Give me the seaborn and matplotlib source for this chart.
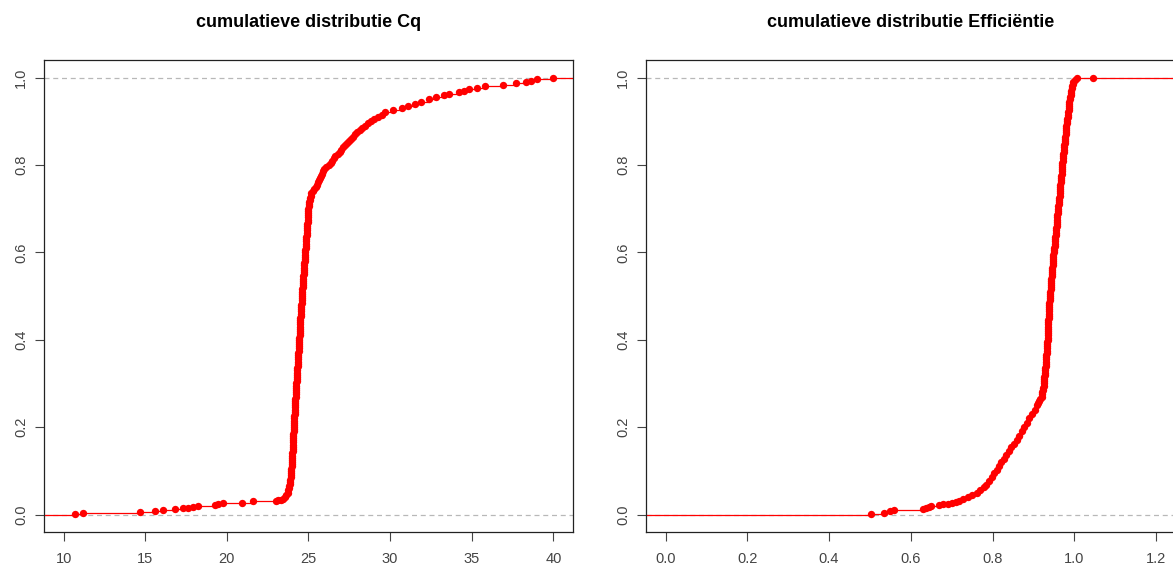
import pandas as pd
import matplotlib.pyplot as plt
import seaborn as sns

# ECDF knots: value and cumulative fraction
cq_value = [10.7, 11.2, 14.65, 15.6, 16.1, 16.85, 17.3, 17.6, 17.9, 18.25,
            19.25, 19.45, 19.75, 20.9, 21.6, 23.0, 23.15, 23.3, 23.45,
            23.55, 23.64, 23.72, 23.77, 23.80, 23.83, 23.85, 23.86, 23.88, 23.90,
            23.91, 23.93, 23.94, 23.95, 23.96, 23.97, 23.98, 23.99, 24.00, 24.01,
            24.02, 24.03, 24.03, 24.04, 24.05, 24.06, 24.06, 24.07, 24.07, 24.08,
            24.09, 24.09, 24.10, 24.11, 24.12, 24.12, 24.13, 24.14, 24.15, 24.15,
            24.16, 24.17, 24.18, 24.19, 24.20, 24.20, 24.21, 24.22, 24.23, 24.24,
            24.24, 24.25, 24.26, 24.27, 24.28, 24.29, 24.29, 24.30, 24.31, 24.32,
            24.33, 24.34, 24.34, 24.35, 24.36, 24.37, 24.38, 24.39, 24.40, 24.41,
            24.41, 24.42, 24.43, 24.44, 24.45, 24.45, 24.46, 24.47, 24.48, 24.49,
            24.50, 24.50, 24.51, 24.52, 24.53, 24.54, 24.55, 24.56, 24.57, 24.58,
            24.59, 24.60, 24.61, 24.62, 24.63, 24.63, 24.64, 24.65, 24.66, 24.67,
            24.68, 24.69, 24.70, 24.71, 24.72, 24.73, 24.74, 24.75, 24.76, 24.77,
            24.78, 24.79, 24.80, 24.81, 24.82, 24.83, 24.84, 24.85, 24.86, 24.87,
            24.88, 24.89, 24.90, 24.91, 24.92, 24.93, 24.94, 24.95, 24.96, 24.97,
            24.98, 24.99, 25.00, 25.02, 25.04, 25.06, 25.08, 25.10, 25.13, 25.18,
            25.25, 25.35, 25.45,
            25.53, 25.60, 25.66, 25.72, 25.77, 25.82, 25.88, 25.95, 26.10, 26.25,
            26.35, 26.45, 26.55, 26.65, 26.78, 26.90, 27.00, 27.10, 27.22, 27.35,
            27.47, 27.60, 27.72, 27.85, 28.0, 28.15, 28.30, 28.45, 28.62, 28.80,
            29.0, 29.25, 29.5, 29.7, 30.2, 30.7, 31.1, 31.5, 31.9, 32.4,
            32.8, 33.3, 33.6, 34.2, 34.5, 34.8, 35.3, 35.8, 36.9, 37.7,
            38.3, 38.6, 39.0, 40.0]
cq_cum = [0.002, 0.004, 0.006, 0.008, 0.010, 0.012, 0.014, 0.016, 0.018, 0.020,
          0.022, 0.024, 0.026, 0.027, 0.030, 0.032, 0.033, 0.034, 0.036,
          0.040, 0.045, 0.050, 0.055, 0.060, 0.065, 0.070, 0.075, 0.080, 0.085,
          0.090, 0.095, 0.100, 0.105, 0.110, 0.115, 0.120, 0.125, 0.130, 0.135,
          0.140, 0.145, 0.150, 0.155, 0.160, 0.165, 0.170, 0.175, 0.180, 0.185,
          0.190, 0.195, 0.200, 0.205, 0.210, 0.215, 0.220, 0.225, 0.230, 0.235,
          0.240, 0.245, 0.250, 0.255, 0.260, 0.265, 0.270, 0.275, 0.280, 0.285,
          0.290, 0.295, 0.300, 0.305, 0.310, 0.315, 0.320, 0.325, 0.330, 0.335,
          0.340, 0.345, 0.350, 0.355, 0.360, 0.365, 0.370, 0.375, 0.380, 0.385,
          0.390, 0.395, 0.400, 0.405, 0.410, 0.415, 0.420, 0.425, 0.430, 0.435,
          0.440, 0.445, 0.450, 0.455, 0.460, 0.465, 0.470, 0.475, 0.480, 0.485,
          0.490, 0.495, 0.500, 0.505, 0.510, 0.515, 0.520, 0.525, 0.530, 0.535,
          0.540, 0.545, 0.550, 0.555, 0.560, 0.565, 0.570, 0.575, 0.580, 0.585,
          0.590, 0.595, 0.600, 0.605, 0.610, 0.615, 0.620, 0.625, 0.630, 0.635,
          0.640, 0.645, 0.650, 0.655, 0.660, 0.665, 0.670, 0.675, 0.680, 0.685,
          0.690, 0.695, 0.700, 0.705, 0.710, 0.715, 0.720, 0.725, 0.730, 0.735,
          0.740, 0.745, 0.750,
          0.755, 0.760, 0.765, 0.770, 0.775, 0.780, 0.785, 0.790, 0.795, 0.800,
          0.805, 0.810, 0.815, 0.820, 0.825, 0.830, 0.835, 0.840, 0.845, 0.850,
          0.855, 0.860, 0.865, 0.870, 0.875, 0.880, 0.885, 0.890, 0.895, 0.900,
          0.905, 0.910, 0.915, 0.920, 0.925, 0.930, 0.935, 0.940, 0.945, 0.950,
          0.955, 0.960, 0.963, 0.966, 0.970, 0.973, 0.977, 0.980, 0.984, 0.988,
          0.990, 0.993, 0.996, 1.000]

eff_value = [0.502, 0.535, 0.549, 0.558, 0.631, 0.638, 0.644, 0.650, 0.670, 0.680,
             0.690, 0.700, 0.710, 0.719, 0.728, 0.739, 0.750, 0.761, 0.770, 0.778,
             0.785, 0.792, 0.798, 0.804, 0.810, 0.816, 0.822, 0.828, 0.834, 0.840,
             0.846, 0.852, 0.859, 0.865, 0.872, 0.878, 0.884, 0.890, 0.897, 0.903,
             0.908, 0.911, 0.914, 0.917, 0.920, 0.921, 0.922, 0.923, 0.924, 0.925,
             0.926, 0.926, 0.927, 0.927, 0.928, 0.928, 0.929, 0.929, 0.930, 0.930,
             0.931, 0.931, 0.932, 0.932, 0.933, 0.933, 0.933, 0.934, 0.934, 0.934,
             0.935, 0.935, 0.935, 0.936, 0.936, 0.936, 0.937, 0.937, 0.937, 0.937,
             0.938, 0.938, 0.938, 0.938, 0.939, 0.939, 0.939, 0.939, 0.940, 0.940,
             0.940, 0.941, 0.941, 0.942, 0.942, 0.943, 0.943, 0.944, 0.944, 0.945,
             0.945, 0.946, 0.946, 0.946, 0.947, 0.947, 0.947, 0.948, 0.948, 0.949,
             0.950, 0.950, 0.951, 0.952, 0.952, 0.953, 0.953, 0.954, 0.955, 0.955,
             0.956, 0.956, 0.957, 0.957, 0.958, 0.958, 0.959, 0.959, 0.960, 0.960,
             0.961, 0.961, 0.962, 0.962, 0.963, 0.963, 0.964, 0.964, 0.965, 0.965,
             0.966, 0.966, 0.967, 0.967, 0.968, 0.968, 0.969, 0.969, 0.970, 0.970,
             0.971, 0.971, 0.972, 0.972, 0.973, 0.973, 0.974, 0.974, 0.975, 0.976,
             0.977, 0.977, 0.978, 0.978, 0.979, 0.979, 0.980, 0.981, 0.981, 0.982,
             0.983, 0.983, 0.984, 0.985, 0.985, 0.986, 0.987, 0.987, 0.988, 0.988,
             0.989, 0.990, 0.991, 0.992, 0.993, 0.994, 0.995, 0.996, 0.998, 1.002,
             1.006, 1.045]
eff_cum = [0.002, 0.004, 0.007, 0.011, 0.013, 0.015, 0.017, 0.019, 0.021, 0.023,
           0.025, 0.027, 0.029, 0.032, 0.035, 0.039, 0.044, 0.050, 0.056, 0.062,
           0.068, 0.077, 0.085, 0.094, 0.103, 0.111, 0.120, 0.128, 0.137, 0.146,
           0.154, 0.162, 0.171, 0.180, 0.190, 0.200, 0.210, 0.220, 0.230, 0.240,
           0.250, 0.255, 0.260, 0.265, 0.270, 0.275, 0.280, 0.285, 0.290, 0.295,
           0.300, 0.305, 0.310, 0.315, 0.320, 0.325, 0.330, 0.335, 0.340, 0.345,
           0.350, 0.355, 0.360, 0.365, 0.370, 0.375, 0.380, 0.385, 0.390, 0.395,
           0.400, 0.405, 0.410, 0.415, 0.420, 0.425, 0.430, 0.435, 0.440, 0.445,
           0.450, 0.455, 0.460, 0.465, 0.470, 0.475, 0.480, 0.485, 0.490, 0.495,
           0.500, 0.505, 0.510, 0.515, 0.520, 0.525, 0.530, 0.535, 0.540, 0.545,
           0.550, 0.555, 0.560, 0.565, 0.570, 0.575, 0.580, 0.585, 0.590, 0.595,
           0.600, 0.605, 0.610, 0.615, 0.620, 0.625, 0.630, 0.635, 0.640, 0.645,
           0.650, 0.655, 0.660, 0.665, 0.670, 0.675, 0.680, 0.685, 0.690, 0.695,
           0.700, 0.705, 0.710, 0.715, 0.720, 0.725, 0.730, 0.735, 0.740, 0.745,
           0.750, 0.755, 0.760, 0.765, 0.770, 0.775, 0.780, 0.785, 0.790, 0.795,
           0.800, 0.805, 0.810, 0.815, 0.820, 0.825, 0.830, 0.835, 0.840, 0.845,
           0.850, 0.855, 0.860, 0.865, 0.870, 0.875, 0.880, 0.885, 0.890, 0.895,
           0.900, 0.905, 0.910, 0.915, 0.920, 0.925, 0.930, 0.935, 0.940, 0.945,
           0.950, 0.955, 0.960, 0.965, 0.970, 0.975, 0.980, 0.985, 0.990, 0.995,
           0.998, 1.000]

cq_ticks = [10, 15, 20, 25, 30, 35, 40]
eff_ticks = [0.0, 0.2, 0.4, 0.6, 0.8, 1.0, 1.2]
y_ticks = [0.0, 0.2, 0.4, 0.6, 0.8, 1.0]

sns.set_theme(style="ticks")
plt.rcParams['font.family'] = ['Liberation Sans', 'DejaVu Sans']

fig = plt.figure(figsize=(11.73, 5.69), dpi=100)
ax1 = fig.add_axes([0.0375, 0.065, 0.451, 0.8295])
ax2 = fig.add_axes([0.5507, 0.065, 0.4515, 0.8295])


def ecdf_panel(ax, values, cum, xlim, ticks, fmt, title):
    df = pd.DataFrame({'x': values, 'F': cum})
    ax.set_xlim(*xlim)
    ax.set_ylim(-0.04, 1.04)
    # grey dashed reference lines at 0 and 1
    for h in (0, 1):
        ax.axhline(h, color='#b8b8b8', lw=0.9, ls=(0, (4, 3)), zorder=1)
    # step function, extended to the plot edges
    ax.hlines(0, xlim[0], values[0], color='red', lw=0.9, zorder=2)
    ax.hlines(1, values[-1], xlim[1], color='red', lw=0.9, zorder=2)
    sns.lineplot(data=df, x='x', y='F', ax=ax, color='red', lw=0.9,
                 drawstyle='steps-post', estimator=None, sort=False, zorder=2)
    sns.scatterplot(data=df, x='x', y='F', ax=ax, color='red', s=28,
                    linewidth=0, zorder=3)
    ax.set_xticks(ticks)
    ax.set_xticklabels([fmt.format(t) for t in ticks])
    ax.set_yticks(y_ticks)
    ax.set_yticklabels(['{:.1f}'.format(t) for t in y_ticks], rotation=90,
                       va='center')
    ax.set_xlabel('')
    ax.set_ylabel('')
    ax.set_title(title, fontsize=13, fontweight='bold', color='black', pad=24)
    ax.tick_params(axis='both', length=6.5, width=0.8, color='#444444',
                   labelcolor='#444444', labelsize=10.5)
    ax.tick_params(axis='x', pad=8)
    ax.tick_params(axis='y', pad=5)
    for sp in ax.spines.values():
        sp.set_visible(True)
        sp.set_color('#222222')
        sp.set_linewidth(0.9)


ecdf_panel(ax1, cq_value, cq_cum, (8.8, 41.2), cq_ticks, '{:d}',
           'cumulatieve distributie Cq')
ecdf_panel(ax2, eff_value, eff_cum, (-0.048, 1.248), eff_ticks, '{:.1f}',
           'cumulatieve distributie Efficiëntie')

fig.savefig('out.png', dpi=100)
